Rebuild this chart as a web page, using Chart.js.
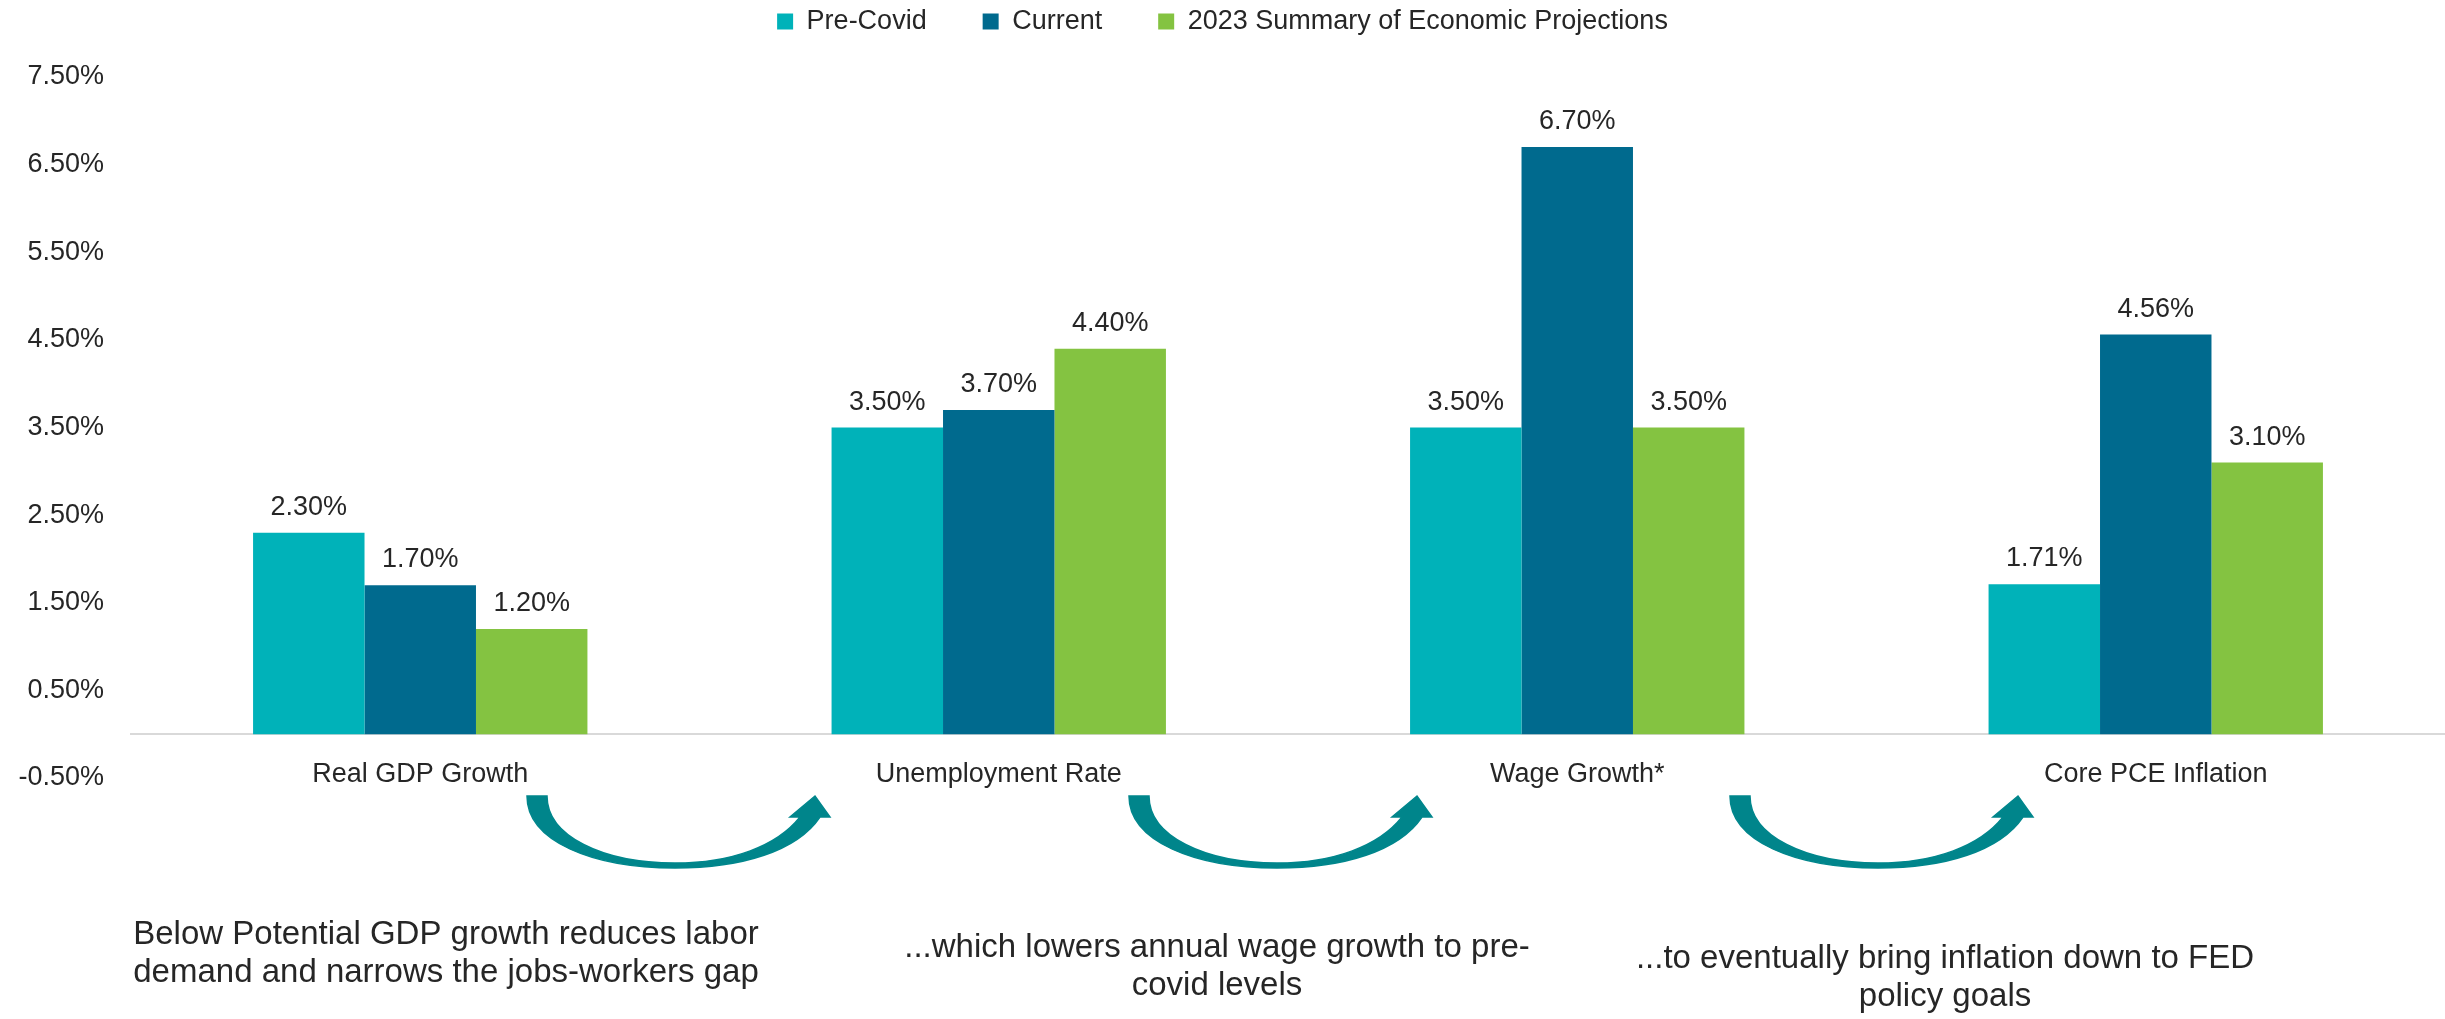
<!DOCTYPE html>
<html>
<head>
<meta charset="utf-8">
<script src="https://cdn.jsdelivr.net/npm/chart.js@4.4.0/dist/chart.umd.min.js"></script>
<style>
    html, body { margin: 0; padding: 0; background: #ffffff; }
    #wrap { width: 2445px; height: 1019px; position: relative; }
</style>
</head>
<body>
<div id="wrap"><canvas id="econChart"></canvas></div>
<script>
const categories = ['Real GDP Growth', 'Unemployment Rate', 'Wage Growth*', 'Core PCE Inflation'];
const seriesNames = ['Pre-Covid', 'Current', '2023 Summary of Economic Projections'];
const preCovid = [2.30, 3.50, 3.50, 1.71];
const current = [1.70, 3.70, 6.70, 4.56];
const sepProjections = [1.20, 4.40, 3.50, 3.10];
const yMin = -0.5;
const yMax = 7.5;
const yStep = 1;
const notes = [
    ['Below Potential GDP growth reduces labor', 'demand and narrows the jobs-workers gap'],
    ['...which lowers annual wage growth to pre-', 'covid levels'],
    ['...to eventually bring inflation down to FED', 'policy goals']
];

const FONT = '"Liberation Sans", Arial, sans-serif';
const TEXT = '#262626';

// value labels above every bar
const valueLabels = {
    id: 'valueLabels',
    afterDatasetsDraw(chart) {
        const ctx = chart.ctx;
        ctx.save();
        ctx.font = '27px ' + FONT;
        ctx.fillStyle = TEXT;
        ctx.textAlign = 'center';
        ctx.textBaseline = 'alphabetic';
        chart.data.datasets.forEach(function(ds, i) {
            chart.getDatasetMeta(i).data.forEach(function(bar, j) {
                ctx.fillText(ds.data[j].toFixed(2) + '%', bar.x, bar.y - 18);
            });
        });
        ctx.restore();
    }
};

// curved arrows + explanatory notes under the chart
function drawCurvedArrow(ctx, x0, y0) {
    const grad = ctx.createLinearGradient(x0, 0, x0 + 303, 0);
    grad.addColorStop(0, '#00858B');
    grad.addColorStop(0.6, '#008A90');
    grad.addColorStop(0.8, '#00AEB6');
    grad.addColorStop(1, '#00B5BC');
    ctx.save();
    ctx.translate(x0, y0);
    ctx.beginPath();
    ctx.moveTo(0, 0);
    ctx.bezierCurveTo(0, 45, 65, 72, 148, 72);
    ctx.bezierCurveTo(215, 72, 270, 55, 293, 21);
    ctx.lineTo(303, 21);
    ctx.lineTo(288, 0);
    ctx.lineTo(263, 21);
    ctx.lineTo(273, 21);
    ctx.bezierCurveTo(250, 50, 205, 67, 148, 67);
    ctx.bezierCurveTo(75, 67, 20, 40, 20, 0);
    ctx.closePath();
    ctx.fillStyle = grad;
    ctx.fill();
    ctx.lineWidth = 1.5;
    ctx.strokeStyle = '#00868C';
    ctx.stroke();
    ctx.restore();
}

const annotations = {
    id: 'annotations',
    afterDraw(chart) {
        const ctx = chart.ctx;
        [527, 1129, 1730].forEach(function(x) { drawCurvedArrow(ctx, x, 796); });

        const noteX = [446, 1217, 1945];
        const noteY = [935, 948, 959];
        ctx.save();
        ctx.font = '33px ' + FONT;
        ctx.fillStyle = TEXT;
        ctx.textAlign = 'center';
        ctx.textBaseline = 'middle';
        notes.forEach(function(lines, i) {
            lines.forEach(function(line, k) {
                ctx.fillText(line, noteX[i], noteY[i] + k * 38);
            });
        });
        ctx.restore();
    }
};

// wider spacing between legend and plot
const legendSpacing = {
    id: 'legendSpacing',
    beforeInit(chart) {
        const fit = chart.legend.fit;
        chart.legend.fit = function() {
            fit.bind(chart.legend)();
            this.height += 32;
        };
    }
};

document.addEventListener('DOMContentLoaded', function() {
    const ctx = document.getElementById('econChart').getContext('2d');
    window.econChart = new Chart(ctx, {
        type: 'bar',
        data: {
            labels: categories,
            datasets: [
                { label: seriesNames[0], data: preCovid, backgroundColor: '#00B2B9' },
                { label: seriesNames[1], data: current, backgroundColor: '#006A8E' },
                { label: seriesNames[2], data: sepProjections, backgroundColor: '#84C341' }
            ]
        },
        options: {
            responsive: true,
            maintainAspectRatio: false,
            animation: false,
            layout: {
                padding: { top: -48, left: 0, right: 0, bottom: 241 }
            },
            datasets: {
                bar: { categoryPercentage: 0.578, barPercentage: 1.0 }
            },
            scales: {
                x: {
                    position: { y: 0 },
                    grid: { display: true, drawOnChartArea: false, drawTicks: false },
                    border: { color: '#D9D9D9', width: 2 },
                    ticks: {
                        padding: 24,
                        color: TEXT,
                        font: { family: FONT, size: 27 }
                    }
                },
                y: {
                    min: yMin,
                    max: yMax,
                    grid: { display: false, drawTicks: false },
                    border: { display: false },
                    ticks: {
                        stepSize: yStep,
                        padding: 27,
                        color: TEXT,
                        font: { family: FONT, size: 27 },
                        callback: function(value) { return value.toFixed(2) + '%'; }
                    },
                    afterFit: function(scale) { scale.width = 131; }
                }
            },
            plugins: {
                legend: {
                    position: 'top',
                    labels: {
                        boxWidth: 16,
                        boxHeight: 16,
                        padding: 56,
                        color: TEXT,
                        font: { family: FONT, size: 27 }
                    }
                },
                tooltip: { enabled: false }
            }
        },
        plugins: [valueLabels, annotations, legendSpacing]
    });
});
</script>
</body>
</html>
